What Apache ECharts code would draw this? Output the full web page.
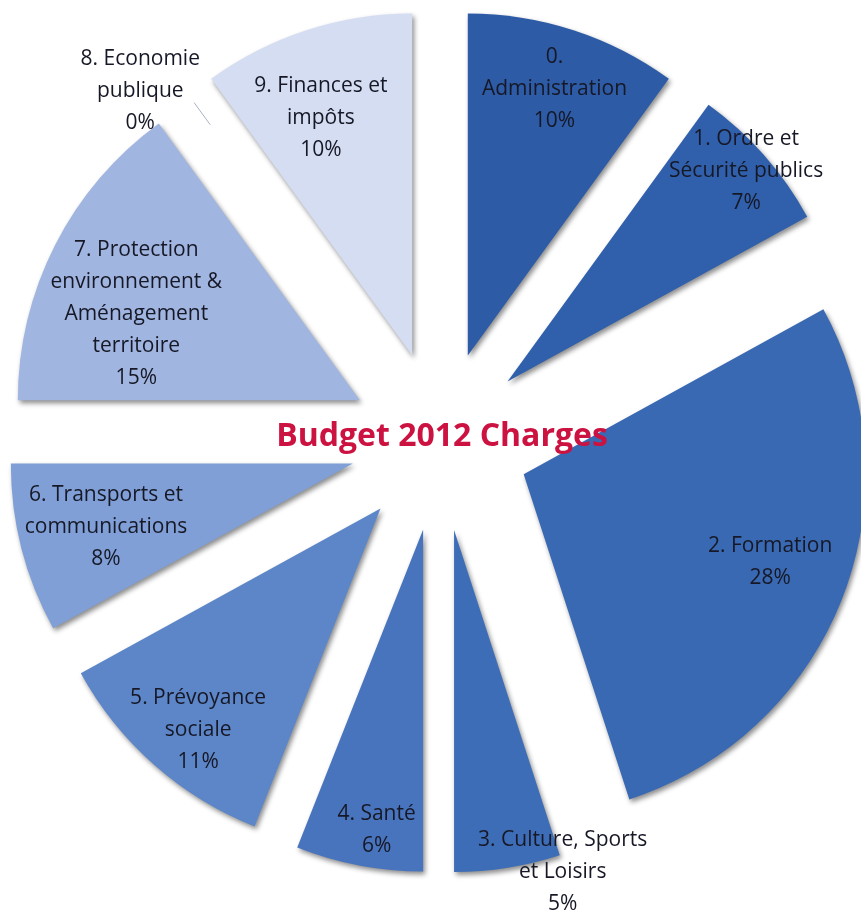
<!DOCTYPE html>
<html>
<head>
<meta charset="utf-8">
<script src="https://cdn.jsdelivr.net/npm/echarts@6/dist/echarts.min.js"></script>
<style>
  html, body { margin: 0; padding: 0; background: #ffffff; }
  #chart { width: 861px; height: 913px; }
</style>
</head>
<body>
<div id="chart"></div>
<script>
// Budget 2012 – charges by function (share of total, %)
const categories = [
  '0.\nAdministration',
  '1. Ordre et\nSécurité publics',
  '2. Formation',
  '3. Culture, Sports\net Loisirs',
  '4. Santé',
  '5. Prévoyance\nsociale',
  '6. Transports et\ncommunications',
  '7. Protection\nenvironnement &\nAménagement\nterritoire',
  '8. Economie\npublique',
  '9. Finances et\nimpôts'
];
const shares = [10, 7, 28, 5, 6, 11, 8, 15, 0, 10];
const chartTitle = 'Budget 2012 Charges';

// slice fills, dark to light
const palette = [
  '#2d5ba6', '#3060ab', '#3a69b3', '#3e6db7', '#4874bd',
  '#5d86c8', '#7f9fd6', '#a1b5e1', '#b9c8ea', '#d5ddf2'
];

// label placement: fraction of radius along the slice, angular nudge (deg)
const labelSpots = [
  { k: 0.82, shift: 0 },
  { k: 0.93, shift: 0 },
  { k: 0.765, shift: -2 },
  { k: 1.05, shift: -8.6 },
  { k: 0.89, shift: -2 },
  { k: 0.84, shift: -2 },
  { k: 0.745, shift: 0 },
  { k: 0.70, shift: -6 },
  { k: 1.085, shift: -5.7 },
  { k: 0.745, shift: -3 }
];

const chart = echarts.init(document.getElementById('chart'));

const seriesData = categories.map(function (name, i) {
  return {
    name: name,
    value: shares[i],
    selected: true,
    itemStyle: { color: palette[i] }
  };
});

chart.setOption({
  animation: false,
  backgroundColor: '#ffffff',
  series: [{
    type: 'pie',
    center: [440, 441],
    radius: [0, 342],
    startAngle: 90,
    clockwise: true,
    selectedMode: 'multiple',
    selectedOffset: 90,
    avoidLabelOverlap: false,
    label: { show: false },
    labelLine: { show: false },
    emphasis: { disabled: true },
    select: { itemStyle: { borderWidth: 0 } },
    itemStyle: {
      borderWidth: 0,
      shadowColor: 'rgba(0,0,0,0.45)',
      shadowBlur: 5,
      shadowOffsetX: 2,
      shadowOffsetY: 3
    },
    data: seriesData
  }]
});

// place each slice's caption from the pie's computed layout
const seriesModel = chart.getModel().getSeriesByIndex(0);
const data = seriesModel.getData();
const offset = seriesModel.get('selectedOffset');
const graphics = [];
data.each(function (idx) {
  const lay = data.getItemLayout(idx);
  const mid = (lay.startAngle + lay.endAngle) / 2;
  const ax = lay.cx + offset * Math.cos(mid);
  const ay = lay.cy + offset * Math.sin(mid);
  const spot = labelSpots[idx];
  const a = mid + spot.shift * Math.PI / 180;
  const rr = spot.k * lay.r;
  graphics.push({
    type: 'text',
    x: ax + rr * Math.cos(a),
    y: ay + rr * Math.sin(a),
    z: 10,
    style: {
      text: categories[idx] + '\n' + shares[idx] + '%',
      fill: '#161826',
      font: '21px "Open Sans", sans-serif',
      lineHeight: 32,
      align: 'center',
      verticalAlign: 'middle'
    }
  });
  // a zero-width slice gets a short leader toward its caption
  if (lay.endAngle === lay.startAngle) {
    graphics.push({
      type: 'line',
      z: 9,
      shape: {
        x1: ax + 0.88 * lay.r * Math.cos(mid),
        y1: ay + 0.88 * lay.r * Math.sin(mid),
        x2: ax + 0.96 * lay.r * Math.cos(mid),
        y2: ay + 0.96 * lay.r * Math.sin(mid)
      },
      style: { stroke: '#a9b3c6', lineWidth: 1 }
    });
  }
});
graphics.push({
  type: 'text',
  x: 442,
  y: 437,
  z: 20,
  style: {
    text: chartTitle,
    fill: '#cc1240',
    font: 'bold 32px "Open Sans", sans-serif',
    align: 'center',
    verticalAlign: 'middle'
  }
});
chart.setOption({ graphic: graphics });
</script>
</body>
</html>
